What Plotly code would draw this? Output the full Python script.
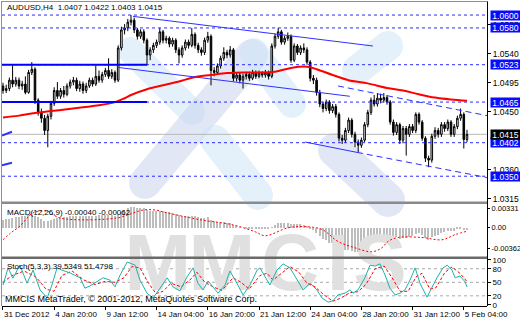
import math
import plotly.graph_objects as go

# ---------------- data ----------------
bars = list(range(146))
opens = [1.0490,1.0483,1.0486,1.0499,1.0493,1.0499,1.0490,1.0493,1.0480,1.0511,
         1.0516,1.0468,1.0449,1.0440,1.0421,1.0443,1.0463,1.0483,1.0474,1.0483,
         1.0477,1.0490,1.0496,1.0499,1.0486,1.0493,1.0483,1.0490,1.0499,1.0493,
         1.0505,1.0499,1.0508,1.0514,1.0505,1.0511,1.0499,1.0549,1.0577,1.0580,
         1.0589,1.0592,1.0577,1.0567,1.0574,1.0561,1.0538,1.0546,1.0553,1.0558,
         1.0574,1.0561,1.0564,1.0555,1.0561,1.0546,1.0538,1.0549,1.0558,1.0553,
         1.0570,1.0553,1.0546,1.0542,1.0561,1.0567,1.0514,1.0511,1.0521,1.0533,
         1.0542,1.0538,1.0546,1.0502,1.0507,1.0499,1.0505,1.0508,1.0502,1.0511,
         1.0505,1.0510,1.0507,1.0511,1.0505,1.0552,1.0567,1.0574,1.0558,1.0564,
         1.0567,1.0530,1.0552,1.0542,1.0549,1.0546,1.0527,1.0502,1.0499,1.0480,
         1.0462,1.0455,1.0465,1.0452,1.0458,1.0446,1.0409,1.0406,1.0421,1.0437,
         1.0415,1.0403,1.0398,1.0406,1.0430,1.0449,1.0468,1.0462,1.0471,1.0468,
         1.0472,1.0465,1.0434,1.0418,1.0430,1.0406,1.0424,1.0415,1.0427,1.0421,
         1.0446,1.0434,1.0409,1.0378,1.0375,1.0412,1.0421,1.0415,1.0430,1.0424,
         1.0434,1.0415,1.0427,1.0440,1.0446,1.0407]
highs = [1.0495,1.0492,1.0503,1.0522,1.0504,1.0503,1.0498,1.0505,1.0515,1.0527,
         1.0519,1.0471,1.0455,1.0445,1.0447,1.0467,1.0488,1.0496,1.0487,1.0490,
         1.0494,1.0500,1.0504,1.0503,1.0498,1.0497,1.0495,1.0503,1.0503,1.0522,
         1.0514,1.0512,1.0518,1.0533,1.0516,1.0514,1.0553,1.0582,1.0586,1.0594,
         1.0600,1.0596,1.0580,1.0578,1.0578,1.0564,1.0550,1.0557,1.0562,1.0580,
         1.0577,1.0568,1.0567,1.0565,1.0564,1.0550,1.0553,1.0562,1.0562,1.0580,
         1.0573,1.0557,1.0550,1.0565,1.0574,1.0570,1.0519,1.0525,1.0537,1.0550,
         1.0546,1.0552,1.0549,1.0511,1.0511,1.0509,1.0512,1.0512,1.0515,1.0514,
         1.0514,1.0513,1.0515,1.0514,1.0556,1.0571,1.0580,1.0577,1.0568,1.0573,
         1.0570,1.0556,1.0555,1.0553,1.0556,1.0550,1.0530,1.0507,1.0503,1.0484,
         1.0466,1.0469,1.0468,1.0462,1.0462,1.0449,1.0414,1.0425,1.0441,1.0440,
         1.0419,1.0407,1.0410,1.0434,1.0453,1.0472,1.0476,1.0479,1.0478,1.0479,
         1.0476,1.0468,1.0438,1.0434,1.0433,1.0428,1.0428,1.0431,1.0431,1.0449,
         1.0449,1.0437,1.0412,1.0382,1.0416,1.0426,1.0425,1.0434,1.0434,1.0438,
         1.0437,1.0431,1.0444,1.0455,1.0449,1.0422]
lows = [1.0478,1.0479,1.0482,1.0488,1.0489,1.0485,1.0484,1.0477,1.0478,1.0507,
        1.0462,1.0444,1.0433,1.0414,1.0395,1.0438,1.0459,1.0470,1.0470,1.0472,
        1.0474,1.0486,1.0491,1.0482,1.0481,1.0478,1.0479,1.0487,1.0489,1.0490,
        1.0495,1.0495,1.0504,1.0501,1.0501,1.0495,1.0496,1.0545,1.0570,1.0575,
        1.0584,1.0572,1.0562,1.0563,1.0556,1.0522,1.0530,1.0541,1.0549,1.0554,
        1.0556,1.0556,1.0550,1.0551,1.0541,1.0525,1.0534,1.0545,1.0548,1.0550,
        1.0548,1.0541,1.0537,1.0538,1.0557,1.0491,1.0505,1.0507,1.0517,1.0529,
        1.0533,1.0534,1.0497,1.0497,1.0494,1.0486,1.0500,1.0498,1.0499,1.0501,
        1.0502,1.0503,1.0503,1.0500,1.0502,1.0548,1.0563,1.0554,1.0554,1.0560,
        1.0526,1.0527,1.0538,1.0538,1.0541,1.0523,1.0497,1.0493,1.0475,1.0457,
        1.0449,1.0451,1.0447,1.0448,1.0441,1.0404,1.0400,1.0402,1.0417,1.0410,
        1.0395,1.0387,1.0394,1.0403,1.0426,1.0445,1.0458,1.0458,1.0463,1.0464,
        1.0461,1.0430,1.0413,1.0414,1.0400,1.0401,1.0382,1.0411,1.0417,1.0417,
        1.0430,1.0405,1.0372,1.0364,1.0371,1.0408,1.0410,1.0411,1.0419,1.0420,
        1.0411,1.0411,1.0423,1.0436,1.0393,1.0403]
closes = [1.0483,1.0486,1.0499,1.0493,1.0499,1.0490,1.0493,1.0480,1.0511,1.0516,
          1.0468,1.0449,1.0440,1.0421,1.0443,1.0463,1.0483,1.0474,1.0483,1.0477,
          1.0490,1.0496,1.0499,1.0486,1.0493,1.0483,1.0490,1.0499,1.0493,1.0505,
          1.0499,1.0508,1.0514,1.0505,1.0511,1.0499,1.0549,1.0577,1.0580,1.0589,
          1.0592,1.0577,1.0567,1.0574,1.0561,1.0538,1.0546,1.0553,1.0558,1.0574,
          1.0561,1.0564,1.0555,1.0561,1.0546,1.0538,1.0549,1.0558,1.0553,1.0570,
          1.0553,1.0546,1.0542,1.0561,1.0567,1.0514,1.0511,1.0521,1.0533,1.0542,
          1.0538,1.0546,1.0502,1.0507,1.0499,1.0505,1.0508,1.0502,1.0511,1.0505,
          1.0510,1.0507,1.0511,1.0505,1.0552,1.0567,1.0574,1.0558,1.0564,1.0567,
          1.0530,1.0552,1.0542,1.0549,1.0546,1.0527,1.0502,1.0499,1.0480,1.0462,
          1.0455,1.0465,1.0452,1.0458,1.0446,1.0409,1.0406,1.0421,1.0437,1.0415,
          1.0403,1.0398,1.0406,1.0430,1.0449,1.0468,1.0462,1.0471,1.0468,1.0472,
          1.0465,1.0434,1.0418,1.0430,1.0406,1.0424,1.0415,1.0427,1.0421,1.0446,
          1.0434,1.0409,1.0378,1.0375,1.0412,1.0421,1.0415,1.0430,1.0424,1.0434,
          1.0415,1.0427,1.0440,1.0446,1.0407,1.0415]

ma_idx = [0,5,10,15,20,25,30,35,38,40,45,50,55,60,65,70,75,80,85,90,95,98,103,108,114,120,125,130,135,140,145]
ma_val = [1.0441,1.0444,1.0448,1.0451,1.0454,1.0457,1.0460,1.0465,1.0471,1.0476,
          1.0485,1.0491,1.0497,1.0504,1.0507,1.0510,1.0511,1.0511,1.0512,1.0518,
          1.0520,1.0516,1.0507,1.0499,1.0494,1.0487,1.0483,1.0477,1.0472,1.0469,1.0467]

macd_hist = [0.0014,0.0015,0.0016,0.0017,0.0018,0.0019,
             0.0020,0.0021,0.0022,0.0023,0.0021,
             0.0018,0.0015,0.0012,0.0012,0.0014,
             0.0016,0.0017,0.0018,0.0018,0.0019,0.0020,0.0020,0.0020,0.0020,0.0020,
             0.0020,0.0021,0.0021,0.0021,0.0022,0.0022,0.0022,0.0022,0.0022,0.0021,
             0.0024,0.0028,0.0031,0.0034,0.0036,0.0036,0.0035,0.0035,0.0034,0.0031,
             0.0030,0.0029,0.0029,0.0030,0.0029,0.0028,0.0027,0.0026,0.0024,0.0022,
             0.0021,0.0021,0.0020,0.0021,0.0020,0.0018,0.0017,0.0017,0.0018,0.0013,
             0.0011,0.0010,0.0010,0.0010,0.0009,0.0009,0.0005,0.0003,0.0001,0.0000,
             -0.0001,-0.0002,-0.0002,-0.0003,-0.0003,-0.0003,-0.0003,-0.0003,
             0.0001,0.0005,0.0008,0.0008,0.0009,0.0009,0.0006,0.0006,0.0006,0.0006,0.0005,0.0003,
             -0.0001,-0.0004,-0.0009,-0.0015,-0.0020,-0.0022,-0.0026,-0.0027,-0.0030,
             -0.0034,-0.0037,-0.0038,-0.0038,-0.0040,-0.0042,-0.0042,-0.0041,
             -0.0038,-0.0034,-0.0029,-0.0026,-0.0022,-0.0019,-0.0016,-0.0014,
             -0.0015,-0.0017,-0.0017,-0.0019,-0.0018,-0.0018,-0.0016,-0.0015,-0.0011,-0.0010,
             -0.0013,-0.0018,-0.0021,-0.0017,-0.0014,-0.0012,-0.0009,-0.0008,-0.0006,-0.0006,
             -0.0005,-0.0003,-0.0001,-0.0004,-0.0004]
macd_sig_idx = [0,2.2,5.3,9.4,13.8,17.8,35.6,39.7,43.8,47.5,51.3,61.6,71.9,78.8,81.9,89.1,
                94.4,99.7,104.7,110,115.3,118.4,120.3,123.4,130.9,137.2,141.3,145]
macd_sig = [-0.0021,-0.0010,0.0003,0.0026,0.0029,0.0017,0.0017,0.0024,0.0031,0.0031,
            0.0026,0.0014,0.0005,-0.0007,-0.0014,0.0000,0.0002,-0.0003,-0.0024,-0.0035,
            -0.0042,-0.0035,-0.0024,-0.0017,-0.0017,-0.0021,-0.0012,-0.0006]

stoch_k_idx = [0,1.6,3.1,5.3,7.5,9.4,11.6,13.8,15.3,16.9,18.4,20.9,24.1,25.6,27.2,29.4,31.3,33.4,35,36.6,
               38.8,41.3,42.8,45,46.9,49.1,51.3,53.1,55.3,57.5,59.4,60.9,62.5,64.1,65.3,67.2,69.4,70.9,73.1,75,
               77.2,79.4,80.3,81.9,83.4,85.6,87.5,89.7,91.9,93.8,96,98.1,99.7,101.6,103.1,104.7,106.9,108.4,109.4,110.9,
               113.1,114.7,116.3,117.8,119.4,120.9,122.5,124.1,125.6,127.2,128.8,130.3,132.5,134.4,135.6,137.5,138.8,140.3,141.3,142.8,
               144.4,145]
stoch_k = [44,82,59,88,48,77,33,15,44,82,77,71,60,37,42,51,60,55,40,66,
           95,88,55,26,15,37,60,40,31,62,82,48,33,53,42,26,44,75,48,22,
           44,77,82,62,44,77,91,82,55,33,48,33,15,6,9,22,26,33,26,33,
           60,88,86,91,66,37,22,26,33,55,82,48,17,44,60,82,88,77,60,64,
           51,39.5]
stoch_d_idx = [0,2.8,6.6,10.3,13.4,15.9,18.4,21.6,25.3,28.8,31.9,35,37.8,40.3,42.8,45.3,47.8,50,52.5,55.6,
               58.4,60.6,63.1,65.6,68.4,71.9,74.4,76.9,80.3,82.5,84.4,86.9,89.7,92.5,95,97.5,100.3,103.1,105.6,108.4,
               110.9,113.4,116.3,119.1,121.6,124.1,126.6,129.1,130.9,133.4,135.3,138.1,140.3,142.8,145]
stoch_d = [50,65,75,62,35,30,65,75,55,45,52,50,60,85,82,50,25,30,48,40,
           55,72,50,40,32,60,50,35,65,70,55,70,85,72,48,40,22,8,15,27,
           29,45,80,86,60,30,30,62,70,35,38,72,84,70,51.5]

tick_idx = [0,16,32,48,64,80,96,112,128,144]
tick_text = ["31 Dec 2012","4 Jan 20:00","9 Jan 12:00","14 Jan 04:00","16 Jan 20:00",
             "21 Jan 12:00","24 Jan 04:00","28 Jan 20:00","31 Jan 12:00","5 Feb 04:00"]
price_ticks = [1.0585,1.0540,1.0495,1.0450,1.0360,1.0315]
levels = [1.0600,1.0580,1.0523,1.0465,1.0402,1.0350]
bid = 1.0415
macd_ticks = [0.00331, 0.0, -0.00362]
stoch_ticks = [100, 80, 50, 20, 0]

# ---------------- geometry helpers (pixels -> paper) ----------------
W, H = 520, 320
L, R, T, B = 2, 33, 3, 14
PW, PH = W - L - R, H - T - B

def pxx(px):
    return (px - L) / PW

def pxy(py):
    return (H - B - py) / PH

XR = [-0.31, 151.25]
FONT = "Liberation Sans"

fig = go.Figure()

# watermark letters in indicator panes (drawn first, below the rest)
fig.add_trace(go.Scatter(
    x=[48.4, 68.4, 89.7, 104.7, 117.8], y=[-0.0004]*5, xaxis="x2", yaxis="y2",
    mode="text", text=["M", "M", "C", "I", "S"], textposition="bottom center",
    textfont=dict(size=80, color="#e0e0e0", family="Liberation Sans", weight="bold"),
    cliponaxis=False, hoverinfo="skip", showlegend=False))

fig.add_trace(go.Candlestick(
    x=bars, open=opens, high=highs, low=lows, close=closes,
    increasing=dict(line=dict(color="black", width=1), fillcolor="white"),
    decreasing=dict(line=dict(color="black", width=1), fillcolor="black"),
    whiskerwidth=0, hoverinfo="skip", showlegend=False, xaxis="x", yaxis="y"))

fig.add_trace(go.Scatter(x=ma_idx, y=ma_val, mode="lines", line=dict(color="#ff0000", width=2, shape="spline"),
                         hoverinfo="skip", showlegend=False, xaxis="x", yaxis="y"))

fig.add_trace(go.Bar(x=bars, y=macd_hist, width=0.4, marker=dict(color="#bdbdbd", line=dict(width=0)),
                     hoverinfo="skip", showlegend=False, xaxis="x2", yaxis="y2"))
fig.add_trace(go.Scatter(x=macd_sig_idx, y=macd_sig, mode="lines",
                         line=dict(color="#ff0000", width=1, dash="2px,2px", shape="spline"),
                         hoverinfo="skip", showlegend=False, xaxis="x2", yaxis="y2"))

fig.add_trace(go.Scatter(x=stoch_d_idx, y=stoch_d, mode="lines",
                         line=dict(color="#ff0000", width=1, dash="3px,2px"),
                         hoverinfo="skip", showlegend=False, xaxis="x3", yaxis="y3"))
fig.add_trace(go.Scatter(x=stoch_k_idx, y=stoch_k, mode="lines", line=dict(color="#20b2aa", width=1),
                         hoverinfo="skip", showlegend=False, xaxis="x3", yaxis="y3"))

shapes = []

# pale logo bands in main pane
def band(x1, y1, x2, y2, w, color):
    dx, dy = x2 - x1, y2 - y1
    ln = math.hypot(dx, dy)
    ux, uy = dx / ln, dy / ln
    nx, ny = -uy, ux
    r = w / 2
    pts = []
    base = math.atan2(ny, nx)
    for k in range(13):
        a = base - math.pi * k / 12
        pts.append((x2 + r * math.cos(a), y2 + r * math.sin(a)))
    for k in range(13):
        a = base + math.pi - math.pi * k / 12
        pts.append((x1 + r * math.cos(a), y1 + r * math.sin(a)))
    d = "M " + " L ".join(f"{pxx(px):.5f},{pxy(py):.5f}" for px, py in pts) + " Z"
    return dict(type="path", xref="paper", yref="paper", path=d, fillcolor=color,
                line=dict(width=0), layer="below")

cyan = "rgba(205,230,245,0.55)"
blue = "rgba(195,208,236,0.5)"
shapes += [
    band(130, 50, 192, 112, 26, cyan),
    band(145, 183, 252, 55, 32, blue),
    band(215, 140, 258, 195, 30, cyan),
    band(254, 52, 292, 104, 28, cyan),
    band(335, 150, 388, 200, 34, blue),
    band(357, 70, 388, 46, 30, cyan),
]

# horizontal dashed levels
for lv in levels:
    shapes.append(dict(type="line", xref="x domain", yref="y", x0=0, x1=1, y0=lv, y1=lv,
                       line=dict(color="#2a2aff", width=1, dash="3px,3px"), layer="above"))
# bid line
shapes.append(dict(type="line", xref="x domain", yref="y", x0=0, x1=1, y0=bid, y1=bid,
                   line=dict(color="#b8b8b8", width=1), layer="below"))
# thick horizontal segments
for lv in [1.0523, 1.0465]:
    shapes.append(dict(type="line", xref="x", yref="y", x0=-0.31, x1=45, y0=lv, y1=lv,
                       line=dict(color="#0000ff", width=2), layer="above"))
# trend lines
trend = [
    (40.6, 1.0598, 115.6, 1.0552, "solid", 1),
    (35.6, 1.0519, 108.4, 1.0474, "solid", 1),
    (104.7, 1.0490, 151.25, 1.0444, "6px,4px", 1),
    (94.4, 1.0403, 110.6, 1.0387, "solid", 1),
    (110.6, 1.0387, 151.25, 1.0348, "6px,4px", 1),
    (-0.31, 1.0413, 2.8, 1.0419, "solid", 2),
    (-0.31, 1.0367, 2.8, 1.0371, "solid", 2),
]
for x0, y0, x1, y1, dsh, wd in trend:
    shapes.append(dict(type="line", xref="x", yref="y", x0=x0, x1=x1, y0=y0, y1=y1,
                       line=dict(color="#3030ff", width=wd, dash=dsh), layer="above"))
# stoch levels
for lv in [80, 50, 20]:
    shapes.append(dict(type="line", xref="x3 domain", yref="y3", x0=0, x1=1, y0=lv, y1=lv,
                       line=dict(color="#a8a8a8", width=1, dash="3px,3px"), layer="below"))
# pane separators and frame
shapes += [
    dict(type="rect", xref="paper", yref="paper", x0=pxx(1), x1=pxx(487.5), y0=pxy(204), y1=pxy(201.5),
         fillcolor="#8a8a8a", line=dict(width=0), layer="above"),
    dict(type="rect", xref="paper", yref="paper", x0=pxx(1), x1=pxx(487.5), y0=pxy(259), y1=pxy(256.5),
         fillcolor="#6a6a6a", line=dict(width=0), layer="above"),
    dict(type="line", xref="paper", yref="paper", x0=pxx(1.5), x1=pxx(1.5), y0=pxy(306), y1=pxy(1.5),
         line=dict(color="#909090", width=1), layer="above"),
    dict(type="line", xref="paper", yref="paper", x0=pxx(1), x1=pxx(487.5), y0=pxy(1.5), y1=pxy(1.5),
         line=dict(color="#909090", width=1), layer="above"),
    dict(type="line", xref="paper", yref="paper", x0=pxx(487.5), x1=pxx(487.5), y0=pxy(306), y1=pxy(1.5),
         line=dict(color="black", width=1), layer="above"),
]

ann = []
def label(text, px, py, size=8):
    ann.append(dict(text=text, xref="paper", yref="paper", x=pxx(px), y=pxy(py), xanchor="left",
                    yanchor="middle", showarrow=False, font=dict(family=FONT, size=size, color="black")))

label("AUDUSD,H4  1.0407 1.0422 1.0403 1.0415", 5, 8)
label("MACD(12,26,9) -0.00040 -0.00062", 5, 212)
label("Stoch(5,3,3) 39.5349 51.4798", 5, 266)
label("MMCIS MetaTrader, \u00a9 2001-2012, MetaQuotes Software Corp.", 3, 299, 9)

for lv in levels + [bid]:
    ann.append(dict(text=f"{lv:.4f}", xref="paper", yref="y", x=pxx(489.5), y=lv, xanchor="left",
                    yanchor="middle", showarrow=False, width=29, height=9, borderpad=0,
                    bgcolor="black" if lv == bid else "#0a0aff",
                    font=dict(family=FONT, size=8.5, color="white")))

fig.update_layout(
    width=W, height=H, margin=dict(l=L, r=R, t=T, b=B, autoexpand=False),
    paper_bgcolor="white", plot_bgcolor="white", showlegend=False,
    bargap=0, shapes=shapes, annotations=ann,
    xaxis=dict(domain=[0, 1], range=XR, anchor="y", showticklabels=False, showgrid=False,
               zeroline=False, ticks="", rangeslider=dict(visible=False), matches="x3", automargin=False),
    xaxis2=dict(domain=[0, 1], range=XR, anchor="y2", showticklabels=False, showgrid=False,
                zeroline=False, ticks="", matches="x3", automargin=False),
    xaxis3=dict(domain=[0, 1], range=XR, anchor="y3", showgrid=False, zeroline=False,
                tickmode="array", tickvals=tick_idx, ticktext=tick_text, ticks="outside", ticklen=3,
                tickcolor="black", showline=True, linecolor="black", linewidth=1, tickangle=0,
                automargin=False,
                ticklabelposition="outside right", tickfont=dict(family=FONT, size=8, color="black")),
    yaxis=dict(domain=[pxy(201.5), 1], range=[1.03108, 1.06187], side="right", anchor="x",
               tickmode="array", tickvals=price_ticks, ticktext=[f"{v:.4f}" for v in price_ticks],
               ticks="outside", ticklen=3, tickcolor="black", showgrid=False, zeroline=False,
               automargin=False, tickfont=dict(family=FONT, size=8.5, color="black")),
    yaxis2=dict(domain=[pxy(256.5), pxy(204)], range=[-0.00502, 0.00415], side="right", anchor="x2",
                tickmode="array", tickvals=macd_ticks, ticktext=["0.00331", "0.00", "-0.00362"],
                ticks="outside", ticklen=2, tickcolor="black", showgrid=False, zeroline=False,
                automargin=False, tickfont=dict(family=FONT, size=7.5, color="black")),
    yaxis3=dict(domain=[0, pxy(259)], range=[-2.6, 101.7], side="right", anchor="x3",
                tickmode="array", tickvals=stoch_ticks, ticktext=["100", "80", "50", "20", "0"],
                ticks="outside", ticklen=3, tickcolor="black", showgrid=False, zeroline=False,
                automargin=False, tickfont=dict(family=FONT, size=8, color="black")),
)

fig.write_html("out.html")
